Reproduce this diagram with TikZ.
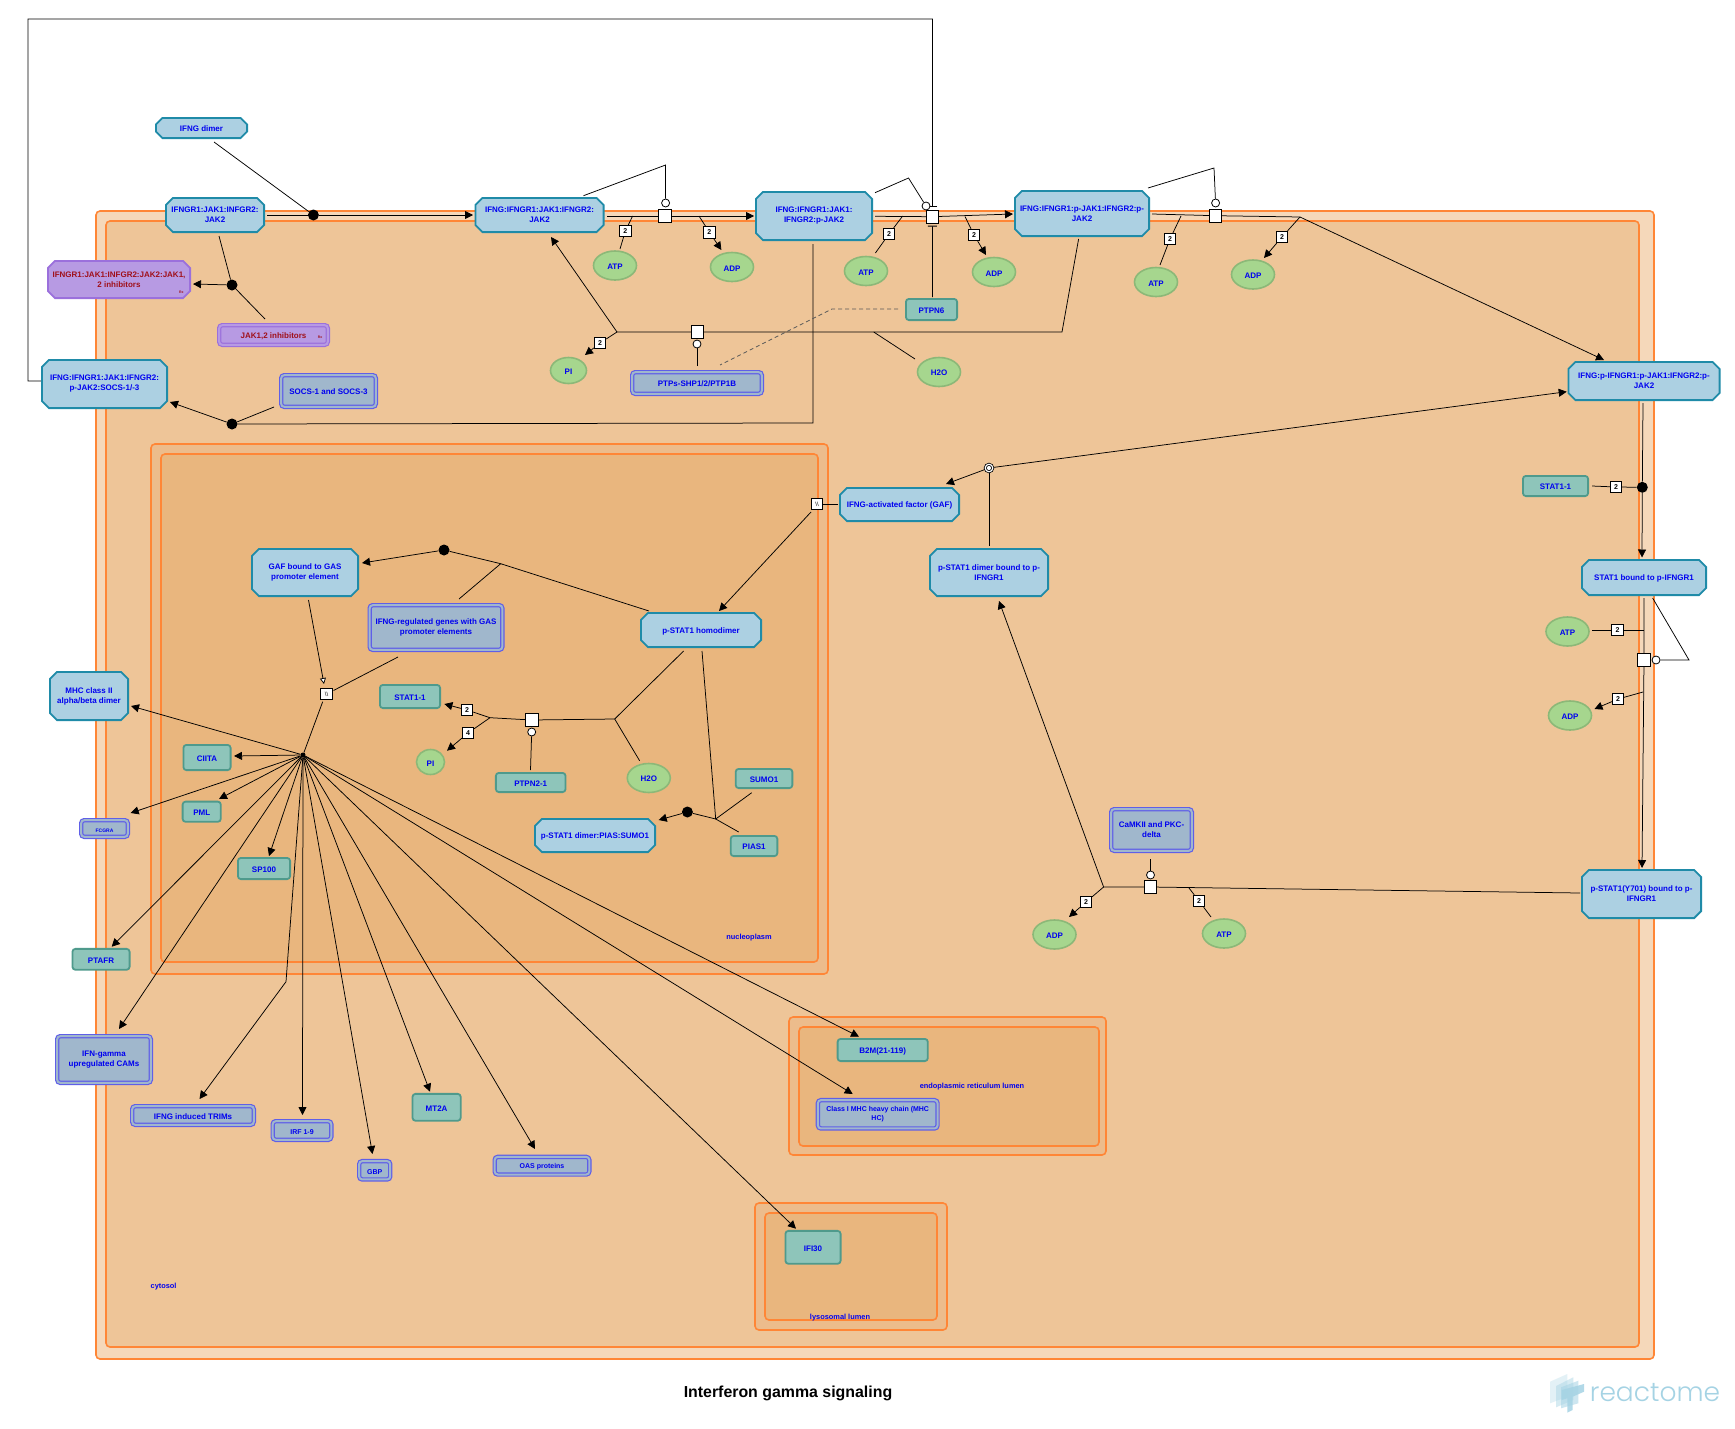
\documentclass[tikz,border=0pt]{standalone}
\usepackage{fontspec}
\setmainfont{Liberation Sans}
\newfontfamily\logofont{Poppins Light}
\usetikzlibrary{shapes.misc,shapes.geometric,arrows.meta,calc}
\pgfdeclarelayer{comp}
\pgfdeclarelayer{conn}
\pgfsetlayers{comp,conn,main}
\definecolor{bluetxt}{HTML}{0000F0}
\definecolor{redtxt}{HTML}{A0101A}
\definecolor{orng}{HTML}{FF8636}
\definecolor{cytoA}{HTML}{F5D8BA}
\definecolor{cytoB}{HTML}{EEC598}
\definecolor{nucA}{HTML}{ECBC8C}
\definecolor{nucB}{HTML}{E9B67E}
\definecolor{cxF}{HTML}{ACD0E2}
\definecolor{cxD}{HTML}{1F8BA8}
\definecolor{prF}{HTML}{8EC5BA}
\definecolor{prD}{HTML}{4F9A8C}
\definecolor{stF}{HTML}{A0B7CC}
\definecolor{stD}{HTML}{5F5FE8}
\definecolor{drF}{HTML}{B79AE3}
\definecolor{drD}{HTML}{9B70DC}
\definecolor{chF}{HTML}{A6D68E}
\definecolor{chD}{HTML}{8CB878}
\definecolor{logoc}{HTML}{A5D3E4}
\tikzset{
  txt/.style={font=\fontsize{8}{10}\selectfont\bfseries,text=bluetxt,align=center,inner sep=0pt,outer sep=0pt,execute at begin node={\rule{0pt}{8pt}}},
  wa/.style 2 args={minimum width=#1-1.8,minimum height=#2-1.8},
  wb/.style 2 args={minimum width=#1-4.4,minimum height=#2-4.4},
  cplx/.style={txt,chamfered rectangle,chamfered rectangle xsep=4.5pt,chamfered rectangle ysep=2.5pt,draw=cxD,fill=cxF,line width=1.8pt},
  drugc/.style={cplx,draw=drD,fill=drF,text=redtxt},
  prot/.style={txt,rectangle,rounded corners=3pt,draw=prD,fill=prF,line width=1.8pt},
  setn/.style={txt,rectangle,rounded corners=3pt,draw=stD,fill=stF,line width=1.2pt,double=stF,double distance=2pt},
  drugs/.style={setn,draw=drD,fill=drF,double=drF,text=redtxt},
  chem/.style={txt,ellipse,draw=chD,fill=chF,line width=1.6pt},
  dot/.style={circle,fill=black,inner sep=0pt,minimum size=11pt},
  hubn/.style={circle,fill=black,inner sep=0pt,minimum size=5pt},
  rsq/.style={rectangle,draw=black,fill=white,line width=.8pt,inner sep=0pt,minimum size=12.5pt},
  cat/.style={circle,draw=black,fill=white,line width=.8pt,inner sep=0pt,minimum size=8pt},
  ocirc/.style={circle,draw=black,fill=white,line width=.8pt,double=white,double distance=1.2pt,inner sep=0pt,minimum size=7.5pt},
  stoi/.style={rectangle,draw=black,fill=white,line width=.8pt,inner sep=0pt,minimum size=11.5pt,font=\fontsize{7}{7}\selectfont\bfseries},
  omit/.style={rectangle,draw=black,fill=white,line width=.8pt,inner sep=0pt,minimum size=11.5pt,font=\fontsize{6}{6}\selectfont},
  ln/.style={draw=black,line width=.75pt},
  ar/.style={ln,-{Triangle[length=8pt,width=8pt]}},
  opar/.style={ln,-{Triangle[open,fill=white,length=6pt,width=6pt]}},
  tbar/.style={ln,-{Bar[width=9pt,line width=1pt]}},
  dsh/.style={draw=black!65,line width=.75pt,dash pattern=on 4pt off 3pt},
  compo/.style={draw=orng,line width=1.6pt,rounded corners=4pt},
  lbl/.style={txt},
  rx/.style={font=\fontsize{3.5}{4}\selectfont\bfseries,text=redtxt,inner sep=0pt}
}
\begin{document}
\begin{tikzpicture}[x=1pt,y=-1pt]
\useasboundingbox (0,0) rectangle (1735,1429);
\begin{pgfonlayer}{comp}
\fill[white] (0,0) rectangle (1735,1429);
\path[compo,fill=cytoA] (96,211) rectangle (1654,1359);
\path[compo,fill=cytoB] (106,221) rectangle (1639,1347);
\path[compo,fill=nucA] (151,444) rectangle (828,974);
\path[compo,fill=nucB] (161,454) rectangle (818,962);
\path[compo,fill=nucA] (789,1017) rectangle (1106,1155);
\path[compo,fill=nucB] (799,1027) rectangle (1099,1146);
\path[compo,fill=nucA] (755,1203) rectangle (947,1330);
\path[compo,fill=nucB] (765,1213) rectangle (937,1320);
\end{pgfonlayer}

% complexes
\node[cplx,wa={93}{22}] (dimer) at (201.5,128) {IFNG dimer};
\node[cplx,wa={100}{36}] (r0) at (215,215) {IFNGR1:JAK1:INFGR2:\\JAK2};
\node[cplx,wa={130}{36}] (c1) at (539.5,215) {IFNG:IFNGR1:JAK1:IFNGR2:\\JAK2};
\node[cplx,wa={118}{50}] (c2) at (814,216) {IFNG:IFNGR1:JAK1:\\IFNGR2:p-JAK2};
\node[cplx,wa={136}{47}] (c3) at (1082,213.5) {IFNG:IFNGR1:p-JAK1:IFNGR2:p-\\JAK2};
\node[cplx,wa={153}{40}] (c4) at (1644,381) {IFNG:p-IFNGR1:p-JAK1:IFNGR2:p-\\JAK2};
\node[drugc,wa={144}{39}] (inh) at (119,279.5) {IFNGR1:JAK1:INFGR2:JAK2:JAK1,\\2 inhibitors};
\node[cplx,wa={127}{50}] (socsC) at (104.5,384) {IFNG:IFNGR1:JAK1:IFNGR2:\\p-JAK2:SOCS-1/-3};
\node[cplx,wa={126}{37}] (stat1b) at (1644,577.5) {STAT1 bound to p-IFNGR1};
\node[cplx,wa={121}{50}] (pstatY) at (1641.5,894) {p-STAT1(Y701) bound to p-\\IFNGR1};
\node[cplx,wa={120}{49}] (pdim) at (989,572.5) {p-STAT1 dimer bound to p-\\IFNGR1};
\node[cplx,wa={121}{35}] (gaf) at (899.5,504.5) {IFNG-activated factor (GAF)};
\node[cplx,wa={108}{49}] (gafb) at (305,572.5) {GAF bound to GAS\\promoter element};
\node[cplx,wa={122}{36}] (hom) at (701,630) {p-STAT1 homodimer};
\node[cplx,wa={122}{35}] (pias) at (595,835.5) {p-STAT1 dimer:PIAS:SUMO1};
\node[cplx,wa={80}{50}] (mhc2) at (89,696) {MHC class II\\alpha/beta dimer};

% sets
\node[drugs,wb={113}{24}] (jakinh) at (273.5,335) {JAK1,2 inhibitors};
\node[rx] (rxa) at (181.4,292) {Rx};
\node[rx] (rxb) at (320,337) {Rx};
\node[setn,wb={99}{36}] (socs) at (328.5,391) {SOCS-1 and SOCS-3};
\node[setn,wb={134}{26}] (ptps) at (697,383) {PTPs-SHP1/2/PTP1B};
\node[setn,wb={137}{49}] (genes) at (436,627.5) {IFNG-regulated genes with GAS\\promoter elements};
\node[setn,wb={85}{46}] (camk) at (1151.5,830) {CaMKII and PKC-\\delta};
\node[setn,wb={51}{21},font=\fontsize{5}{6}\selectfont\bfseries] (fcgra) at (104.5,828.5) {FCGRA};
\node[setn,wb={98}{51}] (cams) at (104,1059.5) {IFN-gamma\\upregulated CAMs};
\node[setn,wb={126}{23}] (trims) at (193,1115.5) {IFNG induced TRIMs};
\node[setn,wb={63}{23},font=\fontsize{7}{8}\selectfont\bfseries] (irf) at (302,1130.5) {IRF 1-9};
\node[setn,wb={35.4}{22.7},font=\fontsize{7}{8}\selectfont\bfseries] (gbp) at (374.7,1170.3) {GBP};
\node[setn,wb={99}{22},font=\fontsize{7}{8}\selectfont\bfseries] (oas) at (542,1165.7) {OAS proteins};
\node[setn,wb={124}{32.7},font=\fontsize{7}{9}\selectfont\bfseries] (mhchc) at (877.7,1114.3) {Class I MHC heavy chain (MHC\\HC)};

% proteins
\node[prot,wa={53}{23}] (ptpn6) at (931.5,309.5) {PTPN6};
\node[prot,wa={67}{22}] (stat1r) at (1555.5,486) {STAT1-1};
\node[prot,wa={62}{25}] (stat1n) at (410,696.5) {STAT1-1};
\node[prot,wa={71.5}{21}] (ptpn2) at (530.7,782.5) {PTPN2-1};
\node[prot,wa={58.5}{21}] (sumo) at (764,778.5) {SUMO1};
\node[prot,wa={48.5}{22}] (pias1) at (754,846) {PIAS1};
\node[prot,wa={49}{27}] (ciita) at (207,757.5) {CIITA};
\node[prot,wa={40}{22}] (pml) at (201.7,811.7) {PML};
\node[prot,wa={54}{23}] (sp100) at (264,868.5) {SP100};
\node[prot,wa={59}{22.7}] (ptafr) at (101,959.3) {PTAFR};
\node[prot,wa={50}{28.7}] (mt2a) at (436.6,1107.3) {MT2A};
\node[prot,wa={92}{24}] (b2m) at (882.7,1050) {B2M(21-119)};
\node[prot,wa={57}{34.7}] (ifi30) at (813,1247.3) {IFI30};

% chemicals
\node[chem,minimum width=43pt,minimum height=29pt] (atp1) at (615,265.5) {ATP};
\node[chem,minimum width=43pt,minimum height=29pt] (adp1) at (732,267) {ADP};
\node[chem,minimum width=43pt,minimum height=29pt] (atp2) at (866,271) {ATP};
\node[chem,minimum width=43pt,minimum height=29pt] (adp2) at (994,272) {ADP};
\node[chem,minimum width=43pt,minimum height=29pt] (atp3) at (1156,282) {ATP};
\node[chem,minimum width=43pt,minimum height=29pt] (adp3) at (1253,274.5) {ADP};
\node[chem,minimum width=43pt,minimum height=29pt] (h2oa) at (939,372) {H2O};
\node[chem,minimum width=36pt,minimum height=26pt] (pia) at (568.5,370.5) {PI};
\node[chem,minimum width=43pt,minimum height=29pt] (atpr) at (1567.5,631.5) {ATP};
\node[chem,minimum width=43pt,minimum height=29pt] (adpr) at (1570,715.5) {ADP};
\node[chem,minimum width=43pt,minimum height=29pt] (adpb) at (1054.5,934.5) {ADP};
\node[chem,minimum width=43pt,minimum height=29pt] (atpb) at (1224,933.5) {ATP};
\node[chem,minimum width=43pt,minimum height=29pt] (h2on) at (648.8,778) {H2O};
\node[chem,minimum width=28pt,minimum height=25pt] (pin) at (430.5,762) {PI};

% reaction glyphs
\node[dot] (d0) at (313.4,215) {};
\node[dot] (d1) at (232,285) {};
\node[dot] (d2) at (232,424) {};
\node[dot] (d3) at (1642.3,487.3) {};
\node[dot] (d4) at (444,550) {};
\node[dot] (d5) at (687.4,812) {};
\node[hubn] (hub) at (303,755) {};
\node[rsq] (s1) at (665,216) {};
\node[rsq] (s2) at (932.4,216.7) {};
\node[rsq] (s3) at (1215.4,215.7) {};
\node[rsq] (s4) at (697.5,332) {};
\node[rsq] (s5) at (1644,660) {};
\node[rsq] (s6) at (1150.5,887) {};
\node[rsq] (s7) at (531.7,720) {};
\node[cat] (cc1) at (665.6,203) {};
\node[cat] (cc2) at (926,206) {};
\node[cat] (cc3) at (1215.6,203) {};
\node[cat] (cc4) at (697,344) {};
\node[cat] (cc5) at (1656,660) {};
\node[cat] (cc6) at (1150.5,875) {};
\node[cat] (cc7) at (531.7,732) {};
\node[ocirc] (o1) at (989,468) {};
\node[omit] (om1) at (817,504) {\textbackslash\textbackslash};
\node[omit] (om2) at (326.5,694) {\textbackslash\textbackslash};

% stoichiometry
\node[stoi] (l1) at (625.4,231) {2};
\node[stoi] (l2) at (709.4,232.3) {2};
\node[stoi] (l3) at (889,234) {2};
\node[stoi] (l4) at (974,235) {2};
\node[stoi] (l5) at (1170,239) {2};
\node[stoi] (l6) at (1282,237) {2};
\node[stoi] (l7) at (600,343) {2};
\node[stoi] (l8) at (1616,487) {2};
\node[stoi] (l9) at (1617.5,630) {2};
\node[stoi] (l10) at (1618,699) {2};
\node[stoi] (l11) at (1086,902) {2};
\node[stoi] (l12) at (1199,901) {2};
\node[stoi] (l13) at (467,710) {2};
\node[stoi] (l14) at (468,733) {4};

% junctions
\coordinate (fbA) at (28,381);
\coordinate (fbB) at (28,19);
\coordinate (fbC) at (932.6,19);
\coordinate (kSocs) at (813,423);
\coordinate (k1) at (665.6,165);
\coordinate (k2) at (908.5,178);
\coordinate (k3) at (1214,168);
\coordinate (k5) at (1689,660);
\coordinate (j1) at (632.6,216);
\coordinate (j2) at (699,216);
\coordinate (j3) at (902.7,216);
\coordinate (j4) at (965,216.5);
\coordinate (j5) at (1181,216);
\coordinate (j6) at (1300,217);
\coordinate (jL) at (617,332);
\coordinate (jR) at (1062,332);
\coordinate (jH) at (873.7,332);
\coordinate (jr1) at (1643.7,630);
\coordinate (jr2) at (1643,692);
\coordinate (jb) at (1103.6,887);
\coordinate (jb2) at (1189,888);
\coordinate (jg) at (500.7,563.7);
\coordinate (jnL) at (490,717.7);
\coordinate (jnR) at (614.7,719);
\coordinate (jp) at (715.7,819);
\coordinate (kd) at (832,309);
\coordinate (kt) at (286,981.7);

\begin{pgfonlayer}{conn}
\draw[ln] ($(dimer)+(12.5,14)$) -- (d0);
\draw[ar] ($(r0)+(52,0)$) -- (d0) -- ($(c1)+(-66.5,0)$);
\draw[ln] ($(r0)+(4,21)$) -- (d1);
\draw[ar] (d1) -- ($(inh)+(74,4.5)$);
\draw[ln] ($(jakinh)+(-8.5,-16)$) -- (d1);
\draw[ar] (d2) -- ($(socsC)+(65.5,18)$);
\draw[ln] ($(socs)+(-54.5,16)$) -- (d2);
\draw[ln] ($(c2)+(-1,28)$) -- (kSocs) -- (d2);
\draw[tbar] ($(socsC)+(-63.5,-3)$) -- (fbA) -- (fbB) -- (fbC) -- ($(s2)+(0.2,-9.7)$);
% first phosphorylation
\draw[ln] ($(c1)+(44,-19.3)$) -- (k1) -- (cc1);
\draw[ar] ($(c1)+(67.5,1)$) -- (s1) -- ($(c2)+(-60,0)$);
\draw[ln] ($(atp1)+(5,-16.5)$) -- (l1) -- (j1);
\draw[ar] (j2) -- (l2) -- ($(adp1)+(-10.6,-17)$);
% second
\draw[ln] ($(c2)+(61,-23.3)$) -- (k2) -- (cc2);
\draw[ar] ($(c2)+(61,0.3)$) -- (s2) -- ($(c3)+(-69,0.5)$);
\draw[ln] ($(atp2)+(9.4,-18)$) -- (l3) -- (j3);
\draw[ar] (j4) -- (l4) -- ($(adp2)+(-8,-17)$);
\draw[tbar] ($(ptpn6)+(1,-12.5)$) -- ($(s2)+(0,9)$);
% third
\draw[ln] ($(c3)+(66,-25.5)$) -- (k3) -- (cc3);
\draw[ar] ($(c3)+(70,0.5)$) -- (s3) -- (j6) -- ($(c4)+(-40,-21)$);
\draw[ln] ($(atp3)+(4,-17)$) -- (l5) -- (j5);
\draw[ar] (j6) -- (l6) -- ($(adp3)+(11,-16.5)$);
% dephosphorylation
\draw[ar] (jL) -- ($(c1)+(11.5,22)$);
\draw[ln] (jL) -- (s4) -- (jR) -- ($(c3)+(-3.4,25.5)$);
\draw[ar] (jL) -- (l7) -- ($(pia)+(16.5,-15.5)$);
\draw[ln] (jH) -- ($(h2oa)+(-24,-13)$);
\draw[ln] ($(ptps)+(0,-17)$) -- (cc4);
\draw[dsh] ($(ptpn6)+(-33.5,-0.5)$) -- (kd) -- ($(ptps)+(23,-18)$);
% STAT1 recruitment
\draw[ar] ($(c4)+(-1,22)$) -- (d3) -- ($(stat1b)+(-2,-20)$);
\draw[ln] ($(stat1r)+(36.5,0)$) -- (l8) -- (d3);
% STAT1 phosphorylation
\draw[ar] ($(stat1b)+(0,20.5)$) -- (s5) -- ($(pstatY)+(0.5,-26)$);
\draw[ln] ($(atpr)+(24.5,-1.5)$) -- (l9) -- (jr1);
\draw[ar] (jr2) -- (l10) -- ($(adpr)+(24.5,-6.5)$);
\draw[ln] ($(stat1b)+(8.6,20.5)$) -- (k5) -- (cc5);
% S727 phosphorylation
\draw[ar] ($(pstatY)+(-61.5,-1)$) -- (s6) -- (jb) -- ($(pdim)+(10,28.5)$);
\draw[ar] (jb) -- (l11) -- ($(adpb)+(14.5,-17.5)$);
\draw[ln] (jb2) -- (l12) -- ($(atpb)+(-13,-16.5)$);
\draw[ln] ($(camk)+(-1,29)$) -- (cc6);
% dimer release
\draw[ln] ($(pdim)+(0,-26.5)$) -- (o1);
\draw[ar] (o1) -- ($(gaf)+(46.5,-20.5)$);
\draw[ar] (o1) -- ($(c4)+(-77.3,10.7)$);
\draw[ln] ($(gaf)+(-61.5,-0.5)$) -- (om1);
\draw[ar] ($(om1)+(-6,8)$) -- ($(hom)+(18,-19)$);
% GAS binding
\draw[ar] ($(hom)+(-52,-19)$) -- (jg) -- (d4) -- ($(gafb)+(57,-9.5)$);
\draw[ln] ($(genes)+(23,-28.5)$) -- (jg);
\draw[opar] ($(gafb)+(3.5,27.5)$) -- ($(om2)+(-2.5,-10)$);
\draw[ln] ($(genes)+(-38,29.5)$) -- ($(om2)+(7,-3.5)$);
\draw[ln] ($(om2)+(-3.8,7.7)$) -- (hub);
% hub fan-out
\draw[ar] (hub) -- ($(mhc2)+(42,10)$);
\draw[ar] (hub) -- ($(ciita)+(27,-1.5)$);
\draw[ar] (hub) -- ($(fcgra)+(26.2,-15.5)$);
\draw[ar] (hub) -- ($(pml)+(17.3,-12.7)$);
\draw[ar] (hub) -- ($(sp100)+(5,-12.5)$);
\draw[ar] (hub) -- ($(ptafr)+(10.7,-12.6)$);
\draw[ar] (hub) -- ($(cams)+(15,-30.5)$);
\draw[ar] (hub) -- (kt) -- ($(trims)+(6.5,-16.5)$);
\draw[ar] (hub) -- ($(irf)+(0.5,-15.5)$);
\draw[ar] (hub) -- ($(gbp)+(-2.2,-16.3)$);
\draw[ar] (hub) -- ($(mt2a)+(-6.6,-15.6)$);
\draw[ar] (hub) -- ($(oas)+(-7,-16.7)$);
\draw[ar] (hub) -- ($(b2m)+(-23.7,-13.3)$);
\draw[ar] (hub) -- ($(mhchc)+(-25,-20.3)$);
\draw[ar] (hub) -- ($(ifi30)+(-17,-18.6)$);
% SUMO
\draw[ar] ($(hom)+(1,21)$) -- (jp) -- (d5) -- ($(pias)+(63.7,-15.5)$);
\draw[ln] ($(sumo)+(-12.3,14.2)$) -- (jp);
\draw[ln] ($(pias1)+(-15.3,-14)$) -- (jp);
% nuclear dephosphorylation
\draw[ln] ($(ptpn2)+(-0.2,-12.5)$) -- (cc7);
\draw[ln] (jnL) -- (s7) -- (jnR);
\draw[ln] (jnR) -- ($(hom)+(-17.4,21)$);
\draw[ln] (jnR) -- ($(h2on)+(-9.2,-17.3)$);
\draw[ar] (jnL) -- (l13) -- ($(stat1n)+(34.4,7.5)$);
\draw[ar] (jnL) -- (l14) -- ($(pin)+(16.5,-11.3)$);
\end{pgfonlayer}

% compartment labels and title
\node[lbl,font=\fontsize{7.4}{9}\selectfont\bfseries] (tcyto) at (163.6,1285) {cytosol};
\node[lbl,font=\fontsize{7.4}{9}\selectfont\bfseries] (tnuc) at (749,936) {nucleoplasm};
\node[lbl,font=\fontsize{7.4}{9}\selectfont\bfseries] (ter) at (972,1085) {endoplasmic reticulum lumen};
\node[lbl,font=\fontsize{7.4}{9}\selectfont\bfseries] (tlys) at (840,1316) {lysosomal lumen};
\node[font=\fontsize{15.9}{20}\selectfont\bfseries,text=black,inner sep=0pt] (title) at (788,1393) {Interferon gamma signaling};

% logo
\fill[logoc,opacity=.3] (1550,1381.7) -- (1567.3,1374) -- (1567.3,1396.7) -- (1550,1403.3) -- cycle;
\fill[logoc,opacity=.45] (1556,1386) -- (1573.3,1377.3) -- (1573.3,1400) -- (1556,1407.3) -- cycle;
\fill[logoc,opacity=.55] (1561,1387.3) -- (1578.3,1380.7) -- (1578.3,1403.3) -- (1561,1408.3) -- cycle;
\fill[logoc,opacity=.85] (1561.7,1390) -- (1584,1384) -- (1584,1391.7) -- (1572.7,1396.7) -- (1572.7,1410) -- (1567.3,1412.7) -- (1567.3,1398.3) -- (1561.7,1400) -- cycle;
\node[font=\logofont\fontsize{26.5}{30}\selectfont,text=logoc,inner sep=0pt] (logo) at (1655,1393) {reactome};
\end{tikzpicture}
\end{document}
